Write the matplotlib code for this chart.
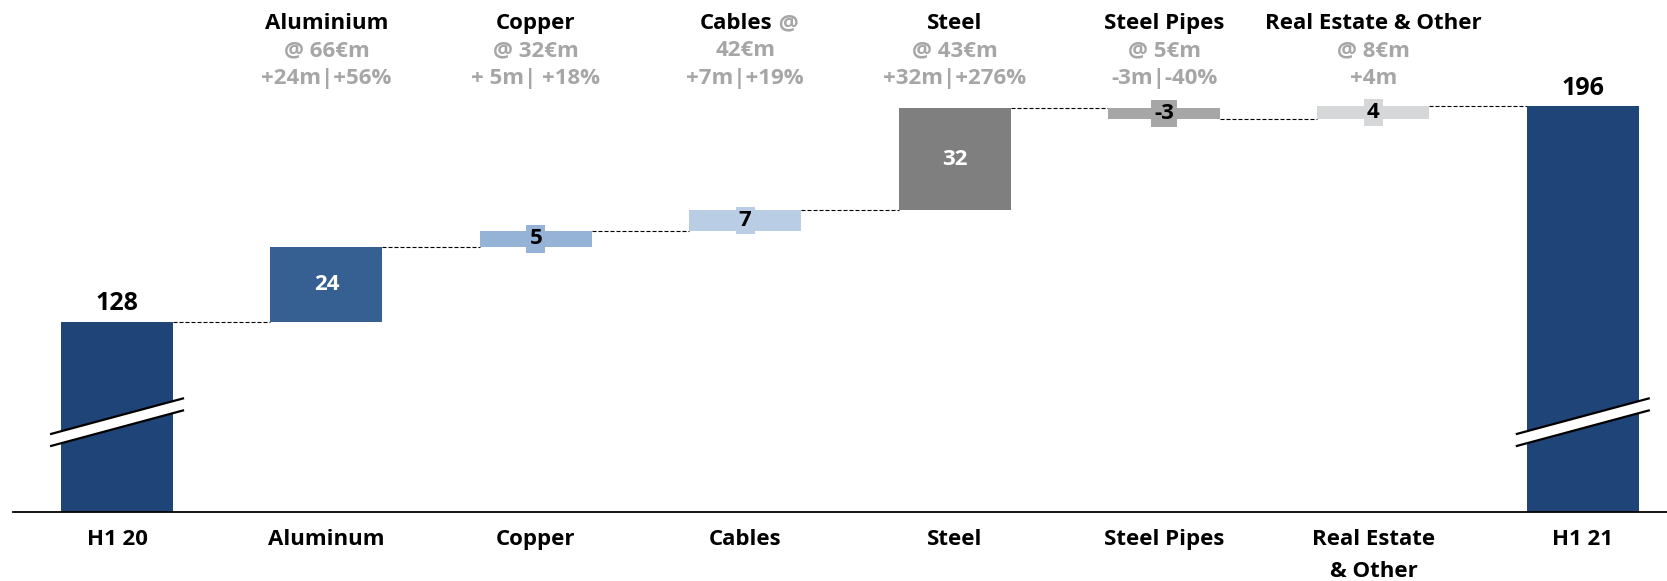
import matplotlib
matplotlib.use('Agg')
import matplotlib.pyplot as plt
import matplotlib.transforms as mtransforms
from matplotlib.patches import Polygon

# ---------------- data ----------------
categories = ['H1 20', 'Aluminum', 'Copper', 'Cables', 'Steel', 'Steel Pipes',
              'Real Estate\n& Other', 'H1 21']
start_value = 127.8
deltas = [23.8, 4.9, 6.8, 32.0, -3.4, 4.1]
end_value = 196.0
value_labels = ['128', '24', '5', '7', '32', '-3', '4', '196']

titles = ['Aluminium', 'Copper', 'Cables', 'Steel', 'Steel Pipes', 'Real Estate & Other']
title_suffix = ['', '', ' @', '', '', '']
price_lines = ['@ 66€m', '@ 32€m', '42€m', '@ 43€m', '@ 5€m', '@ 8€m']
change_lines = ['+24m|+56%', '+ 5m| +18%', '+7m|+19%', '+32m|+276%', '-3m|-40%', '+4m']

# ---------------- style ----------------
total_color = '#1F4478'
delta_colors = ['#376092', '#95B3D7', '#B9CDE5', '#7F7F7F', '#A6A6A6', '#D6D7D9']
inner_text_colors = ['white', 'black', 'black', 'white', 'black', 'black']
gray_text = '#A6A6A6'
FONT = 'Open Sans'
plt.rcParams['font.family'] = [FONT, 'DejaVu Sans']

W, H = 1667, 581
fig = plt.figure(figsize=(W / 100, H / 100), dpi=100)
ax = fig.add_axes([13 / W, 69 / H, (W - 13) / W, 512 / H])

n = len(categories)
x = list(range(n))
bar_w = 0.535
y_bottom = 67.7
y_top = 229.6
ax.set_ylim(y_bottom, y_top)
ax.set_xlim(-0.497, 7.402)

# totals
ax.bar([x[0], x[-1]], [start_value - y_bottom, end_value - y_bottom], bottom=y_bottom,
       width=bar_w, color=total_color, zorder=2)

# deltas
levels = [start_value]
for d in deltas:
    levels.append(levels[-1] + d)

for i, d in enumerate(deltas):
    xi = x[i + 1]
    lo = levels[i]
    ax.bar(xi, d, bottom=lo, width=bar_w, color=delta_colors[i], zorder=2)
    mid = lo + d / 2
    if abs(d) > 10:
        ax.text(xi, mid, value_labels[i + 1], ha='center', va='center', color=inner_text_colors[i],
                fontsize=16, fontweight='bold', zorder=4)
    else:
        ax.text(xi, mid, value_labels[i + 1], ha='center', va='center', color='black',
                fontsize=16, fontweight='bold', zorder=4,
                bbox=dict(boxstyle='square,pad=0.14', facecolor=delta_colors[i], edgecolor='none'))

# connectors
conn_levels = [start_value] + levels[1:]
for i in range(n - 1):
    yv = conn_levels[i]
    ax.plot([x[i] + bar_w / 2, x[i + 1] - bar_w / 2], [yv, yv], color='black', lw=0.8,
            ls=(0, (3.6, 1.8)), zorder=1)

# total labels
for xi, val, lab in [(x[0], start_value, value_labels[0]), (x[-1], end_value, value_labels[-1])]:
    ax.annotate(lab, xy=(xi, val), xytext=(0, 4), textcoords='offset points', ha='center',
                va='bottom', fontsize=18, fontweight='bold', color='black')

# break marks
break_level = 98.0
half_span = 0.32
rise = 11.4
gap = 3.8
for xi in [x[0], x[-1]]:
    xl, xr = xi - half_span, xi + half_span
    y1l, y1r = break_level - rise / 2, break_level + rise / 2
    poly = Polygon([[xl, y1l], [xr, y1r], [xr, y1r - gap], [xl, y1l - gap]], closed=True,
                   facecolor='white', edgecolor='none', zorder=3)
    ax.add_patch(poly)
    ax.plot([xl, xr], [y1l, y1r], color='black', lw=1.6, zorder=3, solid_capstyle='butt')
    ax.plot([xl, xr], [y1l - gap, y1r - gap], color='black', lw=1.6, zorder=3, solid_capstyle='butt')

# top annotations
tr = mtransforms.blended_transform_factory(ax.transData, fig.transFigure)
row_y = [1 - 29 / H, 1 - 56 / H, 1 - 84 / H]
TS = 16
for i in range(len(titles)):
    xi = x[i + 1]
    if title_suffix[i]:
        t = ax.annotate(titles[i], xy=(xi, row_y[0]), xycoords=tr, xytext=(-6.5, 0),
                        textcoords='offset points', ha='center', va='baseline',
                        fontsize=TS, fontweight='bold', color='black')
        ax.annotate(title_suffix[i], xy=(1, 0), xycoords=t, ha='left', va='bottom',
                    fontsize=TS, fontweight='bold', color=gray_text)
    else:
        ax.text(xi, row_y[0], titles[i], transform=tr, ha='center', va='baseline',
                fontsize=TS, fontweight='bold', color='black')
    ax.text(xi, row_y[1], price_lines[i], transform=tr, ha='center', va='baseline',
            fontsize=TS, fontweight='bold', color=gray_text)
    ax.text(xi, row_y[2], change_lines[i], transform=tr, ha='center', va='baseline',
            fontsize=TS, fontweight='bold', color=gray_text)

# axes styling
ax.set_xticks(x)
ax.set_xticklabels(categories, fontsize=16, fontweight='bold', linespacing=1.7)
ax.tick_params(axis='x', length=0, pad=12)
ax.set_yticks([])
for s in ['left', 'right', 'top']:
    ax.spines[s].set_visible(False)
ax.spines['bottom'].set_linewidth(1.3)
ax.spines['bottom'].set_color('black')
ax.patch.set_alpha(0)

fig.savefig('out.png', dpi=100)
